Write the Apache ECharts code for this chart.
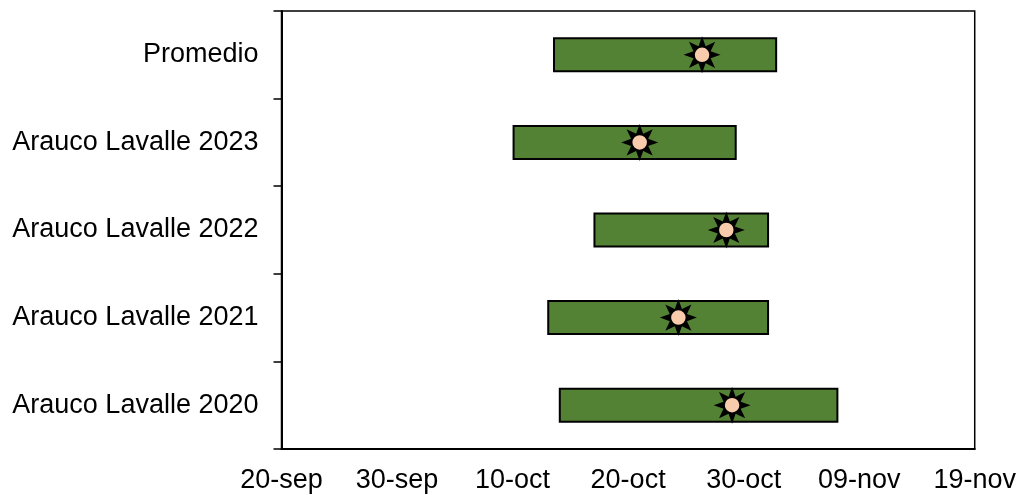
<!DOCTYPE html>
<html>
<head>
<meta charset="utf-8">
<script src="https://cdn.jsdelivr.net/npm/echarts@6/dist/echarts.min.js"></script>
<style>html,body{margin:0;padding:0;background:#fff;}#c{width:1019px;height:495px;}</style>
</head>
<body>
<div id="c"></div>
<script>
// days counted from 20-sep
const categories = ['Promedio', 'Arauco Lavalle 2023', 'Arauco Lavalle 2022', 'Arauco Lavalle 2021', 'Arauco Lavalle 2020'];
const startDay = [23.5, 20.0, 27.0, 23.0, 24.0];
const endDay = [42.9, 39.4, 42.2, 42.2, 48.2];
const markDay = [36.4, 31.0, 38.5, 34.35, 39.0];
const tickLabels = ['20-sep', '30-sep', '10-oct', '20-oct', '30-oct', '09-nov', '19-nov'];

function starPath(n, R, r) {
  let d = '';
  for (let i = 0; i < 2 * n; i++) {
    const a = -Math.PI / 2 + i * Math.PI / n;
    const rad = i % 2 === 0 ? R : r;
    const x = (R + rad * Math.cos(a)).toFixed(3);
    const y = (R + rad * Math.sin(a)).toFixed(3);
    d += (i === 0 ? 'M' : 'L') + x + ' ' + y + ' ';
  }
  return 'path://' + d + 'Z';
}

const chart = echarts.init(document.getElementById('c'), null, {renderer: 'canvas'});
const font = 'Liberation Sans, Arial, sans-serif';
chart.setOption({
  animation: false,
  grid: {left: 281.5, right: 42.5, top: 11, bottom: 46, show: true, borderColor: '#000', borderWidth: 1.5, backgroundColor: 'transparent'},
  xAxis: {
    type: 'value', min: 0, max: 60, interval: 10,
    axisLine: {show: true, lineStyle: {color: '#000', width: 2}},
    axisTick: {show: false},
    splitLine: {show: false},
    axisLabel: {
      color: '#000', fontSize: 27, fontFamily: font, margin: 18,
      formatter: function (v) { return tickLabels[Math.round(v / 10)]; }
    }
  },
  yAxis: {
    type: 'category', data: categories, inverse: true,
    axisLine: {show: true, lineStyle: {color: '#000', width: 2}},
    axisTick: {show: true, length: 8, lineStyle: {color: '#000', width: 1.5}},
    axisLabel: {color: '#000', fontSize: 27, fontFamily: font, margin: 23, padding: [4, 0, 0, 0]}
  },
  series: [
    {
      type: 'bar', stack: 'r', barWidth: 35,
      itemStyle: {color: 'transparent'},
      data: startDay,
      silent: true
    },
    {
      type: 'bar', stack: 'r', barWidth: 35,
      itemStyle: {color: '#548235', borderColor: '#000', borderWidth: 2},
      data: endDay.map((e, i) => +(e - startDay[i]).toFixed(3))
    },
    {
      type: 'scatter', z: 5,
      symbol: starPath(8, 18, 9), symbolSize: 37,
      itemStyle: {color: '#000', opacity: 1},
      data: markDay.map((m, i) => [m, categories[i]])
    },
    {
      type: 'scatter', z: 6,
      symbol: 'circle', symbolSize: 16,
      itemStyle: {color: '#F8CBAD', borderColor: '#000', borderWidth: 1.5, opacity: 1},
      data: markDay.map((m, i) => [m, categories[i]])
    }
  ]
});
</script>
</body>
</html>
